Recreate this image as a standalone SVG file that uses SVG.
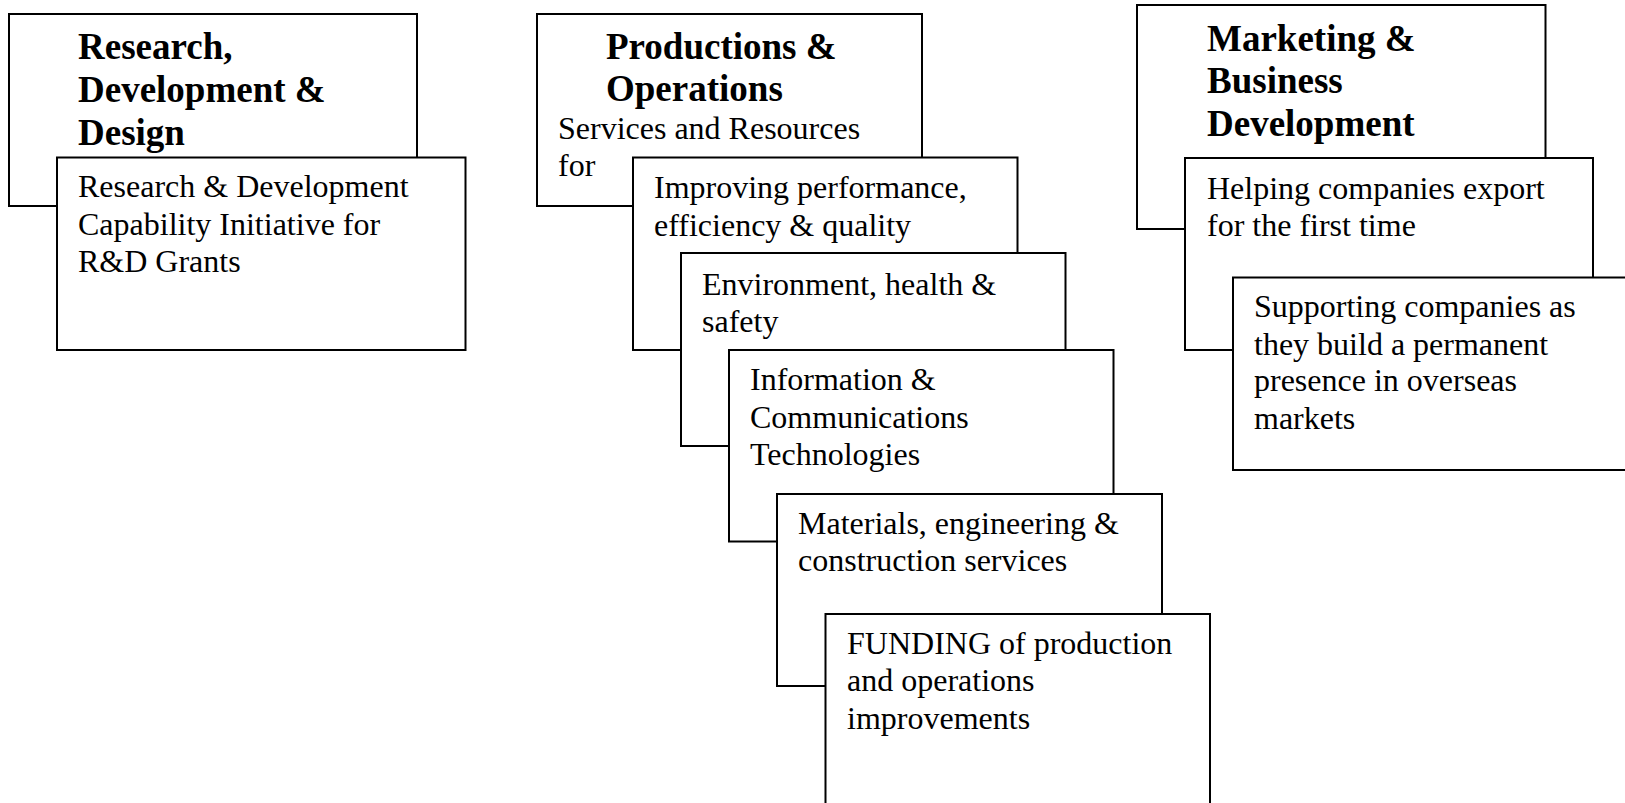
<svg xmlns="http://www.w3.org/2000/svg" width="1625" height="803" viewBox="0 0 1625 803">
<style>
rect.box { fill: #ffffff; stroke: #000000; stroke-width: 2; }
text { font-family: "Liberation Serif", "Times New Roman", serif; fill: #000000; }
text.h { font-size: 37px; font-weight: bold; }
text.b { font-size: 32px; }
</style>
<rect x="0" y="0" width="1625" height="803" fill="#ffffff"/>
<g id="connectors"></g>
<g id="rdd">
<rect class="box" x="9" y="14" width="408" height="192"/>
<text class="h"><tspan x="78" y="59">Research,</tspan><tspan x="78" y="102">Development &amp;</tspan><tspan x="78" y="145">Design</tspan></text>
</g>
<g id="rd-grants">
<rect class="box" x="57" y="157.5" width="408.5" height="192.5"/>
<text class="b"><tspan x="78" y="197">Research &amp; Development</tspan><tspan x="78" y="234.5">Capability Initiative for</tspan><tspan x="78" y="272">R&amp;D Grants</tspan></text>
</g>
<g id="production">
<rect class="box" x="537" y="14" width="385" height="192"/>
<text class="h"><tspan x="606" y="59">Productions &amp;</tspan><tspan x="606" y="101">Operations</tspan></text>
<text class="b"><tspan x="558" y="138.5">Services and Resources</tspan><tspan x="558" y="176">for</tspan></text>
</g>
<g id="improving">
<rect class="box" x="633" y="157.5" width="384.5" height="192.5"/>
<text class="b"><tspan x="654" y="198">Improving performance,</tspan><tspan x="654" y="235.5">efficiency &amp; quality</tspan></text>
</g>
<g id="environment">
<rect class="box" x="681" y="253" width="384.5" height="193"/>
<text class="b"><tspan x="702" y="295">Environment, health &amp;</tspan><tspan x="702" y="332">safety</tspan></text>
</g>
<g id="ict">
<rect class="box" x="729" y="350" width="384.5" height="191.5"/>
<text class="b"><tspan x="750" y="390">Information &amp;</tspan><tspan x="750" y="427.5">Communications</tspan><tspan x="750" y="465">Technologies</tspan></text>
</g>
<g id="materials">
<rect class="box" x="777" y="494" width="385" height="192"/>
<text class="b"><tspan x="798" y="533.5">Materials, engineering &amp;</tspan><tspan x="798" y="571">construction services</tspan></text>
</g>
<g id="funding">
<rect class="box" x="825.5" y="614" width="384.5" height="200"/>
<text class="b"><tspan x="847" y="653.5">FUNDING of production</tspan><tspan x="847" y="691">and operations</tspan><tspan x="847" y="728.5">improvements</tspan></text>
</g>
<g id="marketing">
<rect class="box" x="1137" y="5" width="408.5" height="224"/>
<text class="h"><tspan x="1207" y="51">Marketing &amp;</tspan><tspan x="1207" y="93">Business</tspan><tspan x="1207" y="136">Development</tspan></text>
</g>
<g id="export">
<rect class="box" x="1185" y="158" width="408" height="192"/>
<text class="b"><tspan x="1207" y="198.5">Helping companies export</tspan><tspan x="1207" y="236">for the first time</tspan></text>
</g>
<g id="presence">
<rect class="box" x="1233" y="277.5" width="420" height="192.5"/>
<text class="b"><tspan x="1254" y="317">Supporting companies as</tspan><tspan x="1254" y="354.5">they build a permanent</tspan><tspan x="1254" y="391">presence in overseas</tspan><tspan x="1254" y="428.5">markets</tspan></text>
</g>
</svg>
